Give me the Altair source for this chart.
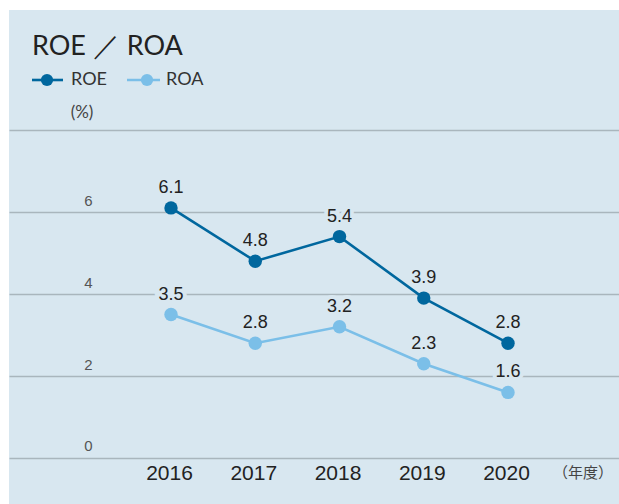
import altair as alt
import pandas as pd

years = [2016, 2017, 2018, 2019, 2020]
roe = [6.1, 4.8, 5.4, 3.9, 2.8]
roa = [3.5, 2.8, 3.2, 2.3, 1.6]
series_names = ["ROE", "ROA"]
colors = ["#00679e", "#7bbfe8"]
y_ticks = [0, 2, 4, 6, 8]

BG = "#d8e7f0"
NUM_FONT = "Liberation Sans"
TXT_FONT = "Lato"

rows = []
for name, vals in zip(series_names, [roe, roa]):
    for yr, v in zip(years, vals):
        rows.append({"year": yr, "value": v, "series": name})
df = pd.DataFrame(rows)

W, H = 610, 494
x_scale = alt.Scale(domain=[2014.077, 2021.3175], nice=False, zero=False)
y_scale = alt.Scale(domain=[-1.122, 10.927], nice=False, zero=False)
color_scale = alt.Scale(domain=series_names, range=colors)

base = alt.Chart(df).encode(
    x=alt.X("year:Q", scale=x_scale,
            axis=alt.Axis(values=years, format="d", title=None, grid=False, domain=False,
                          ticks=False, tickSize=0, labelPadding=-31, labelBaseline="middle",
                          labelOffset=-2, labelFontSize=21, labelColor="#222222",
                          labelFont=NUM_FONT)),
    y=alt.Y("value:Q", scale=y_scale,
            axis=alt.Axis(values=y_ticks, title=None, grid=True, gridColor="#a9b6bd",
                          gridWidth=1.5, domain=False, ticks=False, tickSize=0,
                          labelPadding=-79, labelAlign="center", labelBaseline="middle",
                          labelOffset=-12, labelFontSize=15, labelColor="#555555",
                          labelFont=NUM_FONT,
                          labelExpr="datum.value == 8 ? '' : datum.label")),
    color=alt.Color("series:N", scale=color_scale, legend=None),
    detail="series:N",
)

lines = base.mark_line(strokeWidth=2.6)
points = base.mark_circle(size=180, opacity=1)
halo = base.mark_text(dy=-20, fontSize=18, font=NUM_FONT, stroke=BG, strokeWidth=8,
                      baseline="middle").encode(text=alt.Text("value:Q", format=".1f"),
                                                color=alt.value(BG))
labels = base.mark_text(dy=-20, fontSize=18, font=NUM_FONT, baseline="middle").encode(
    text=alt.Text("value:Q", format=".1f"), color=alt.value("#222222"))

deco = alt.Chart(pd.DataFrame({"a": [0]}))
title = deco.mark_text(text="ROE ／ ROA", fontSize=27, font=TXT_FONT, color="#222222",
                       align="left", baseline="alphabetic").encode(
    x=alt.value(23), y=alt.value(45))
unit = deco.mark_text(text="(%)", fontSize=17, font=TXT_FONT, color="#444444",
                      align="center", baseline="middle").encode(x=alt.value(73), y=alt.value(103))
nendo = deco.mark_text(text="（年度）", fontSize=15, font="Noto Sans CJK JP", color="#444444",
                       align="center", baseline="middle").encode(x=alt.value(574), y=alt.value(463))

leg_layers = []
leg_pos = [(23, 54, 38, 62), (118, 151, 138, 157)]
for name, col, (x1, x2, cx, tx) in zip(series_names, colors, leg_pos):
    leg_layers.append(deco.mark_rule(color=col, strokeWidth=2.6).encode(
        x=alt.value(x1), x2=alt.value(x2), y=alt.value(70)))
    leg_layers.append(deco.mark_circle(color=col, size=150, opacity=1).encode(
        x=alt.value(cx), y=alt.value(70)))
    leg_layers.append(deco.mark_text(text=name, fontSize=18, font=TXT_FONT, color="#333333",
                                     align="left", baseline="middle").encode(
        x=alt.value(tx), y=alt.value(70)))

chart = alt.layer(lines, points, halo, labels, title, unit, nendo, *leg_layers).properties(
    width=W, height=H,
    background="white",
    padding={"left": 9, "top": 10, "right": 0, "bottom": 0},
    autosize=alt.AutoSizeParams(type="none"),
).configure_view(fill=BG, stroke=None)

chart.save("out.html", embed_options={"renderer": "svg", "actions": False})
